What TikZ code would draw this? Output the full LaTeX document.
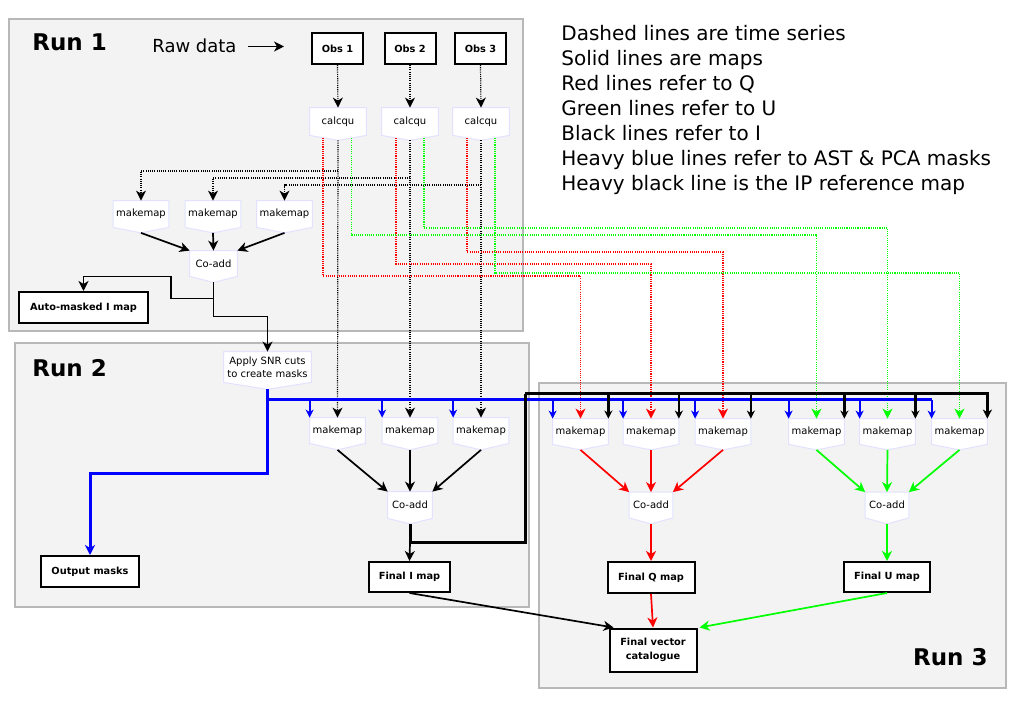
\documentclass[tikz,border=0pt]{standalone}
\usepackage{fontspec}
\setmainfont{DejaVu Sans}
\usetikzlibrary{arrows.meta,calc}
\pgfdeclarelayer{back}
\pgfdeclarelayer{mid}
\pgfsetlayers{back,mid,main}
\definecolor{runfill}{HTML}{F3F3F3}
\definecolor{runline}{HTML}{B8B8B8}
\definecolor{procline}{HTML}{E2E2FF}
\definecolor{gr}{HTML}{00FF00}
\newcommand{\mkproc}[2]{%
  \begin{pgfonlayer}{mid}
    \draw[procshape] (#1.north west) -- (#1.north east) -- (#1.south east) -- ($(#1.south)+(0,#2)$) -- (#1.south west) -- cycle;
  \end{pgfonlayer}
  \coordinate (#1t) at ($(#1.south)+(0,#2)$);}
\begin{document}
\begin{tikzpicture}[x=0.5pt,y=-0.5pt,
  >={Stealth[length=5pt,width=5pt,inset=1.5pt]},
  runbox/.style={draw=runline, line width=1pt, fill=runfill},
  runlbl/.style={font=\fontsize{11.5}{14}\selectfont\bfseries, inner sep=0pt},
  leg/.style={font=\fontsize{10}{12}\selectfont, inner sep=0pt, anchor=base west},
  box/.style={draw=black, line width=1pt, fill=white, inner sep=0pt, align=center, font=\fontsize{4.9}{7}\selectfont\bfseries},
  proc/.style={inner sep=0pt, align=center, font=\fontsize{5}{6.5}\selectfont},
  procshape/.style={draw=procline, line width=0.5pt, fill=white},
  ts/.style={line width=0.6pt, dash pattern=on 0.55pt off 0.55pt},
  tsk/.style={ts, black},
  tsr/.style={ts, red},
  tsg/.style={ts, gr},
  mapl/.style={line width=0.85pt, black},
  redl/.style={line width=0.85pt, red},
  greenl/.style={line width=0.85pt, gr},
  bluel/.style={line width=1.5pt, blue},
  bluestub/.style={line width=1.1pt, blue, -{Stealth[length=4pt,width=4pt,inset=1.2pt]}},
  heavy/.style={line width=1.5pt, black},
  heavystub/.style={line width=1.1pt, black, -{Stealth[length=4pt,width=4pt,inset=1.2pt]}},
  mm/.style={proc, minimum width=27.5pt, minimum height=12.5pt},
  cad/.style={proc, minimum width=22pt, minimum height=12.5pt}
]
\useasboundingbox (0,0) rectangle (1017,705);

% Run boxes
\begin{pgfonlayer}{back}
  \fill[white] (0,0) rectangle (1017,705);
  \draw[runbox] (9,19) rectangle (523,331);
  \draw[runbox] (15,343) rectangle (529,607);
  \draw[runbox] (539,383) rectangle (1006,688);
\end{pgfonlayer}
\node[runlbl, anchor=base west] (r1) at (32,51) {Run 1};
\node[runlbl, anchor=base west] (r2) at (32,377) {Run 2};
\node[runlbl, anchor=base east] (r3) at (988,665) {Run 3};

% Legend
\node[leg] (lg1) at (561,41) {Dashed lines are time series};
\node[leg] (lg2) at (561,66) {Solid lines are maps};
\node[leg] (lg3) at (561,91) {Red lines refer to Q};
\node[leg] (lg4) at (561,116) {Green lines refer to U};
\node[leg] (lg5) at (561,141) {Black lines refer to I};
\node[leg] (lg6) at (561,166) {Heavy blue lines refer to AST \& PCA masks};
\node[leg] (lg7) at (561,191) {Heavy black line is the IP reference map};

% Raw data
\node[leg, font=\fontsize{9}{11}\selectfont] (raw) at (152,53) {Raw data};
\coordinate (ra1) at (248,46.5);
\coordinate (ra2) at (284,46.5);
\draw[line width=0.7pt,->] (ra1) -- (ra2);

% Obs boxes
\node[box, minimum width=25.5pt, minimum height=15.5pt] (obs1) at (337.5,48.5) {Obs 1};
\node[box, minimum width=25.5pt, minimum height=15.5pt] (obs2) at (410,48.5) {Obs 2};
\node[box, minimum width=25.5pt, minimum height=15.5pt] (obs3) at (480.5,48.5) {Obs 3};

% calcqu
\node[proc, minimum width=28pt, minimum height=13.5pt] (cc1) at (338,121.5) {calcqu};
\node[proc, minimum width=28pt, minimum height=13.5pt] (cc2) at (410,121.5) {calcqu};
\node[proc, minimum width=28pt, minimum height=13.5pt] (cc3) at (481,121.5) {calcqu};
\mkproc{cc1}{5}\mkproc{cc2}{5}\mkproc{cc3}{5}

% Run 1 makemaps and co-add
\node[mm, minimum height=13pt] (ma1) at (141,214) {makemap};
\node[mm, minimum height=13pt] (ma2) at (213,214) {makemap};
\node[mm, minimum height=13pt] (ma3) at (284.5,214) {makemap};
\mkproc{ma1}{5.5}\mkproc{ma2}{5.5}\mkproc{ma3}{5.5}
\node[cad, minimum width=23.5pt] (cadd1) at (213.5,263.5) {Co-add};
\mkproc{cadd1}{6}
\node[box, minimum width=64.5pt, minimum height=15.5pt] (am) at (83.5,307.5) {Auto-masked I map};

% Run 2
\node[proc, minimum width=43.5pt, minimum height=15pt] (snr) at (267.5,367) {Apply SNR cuts\\to create masks};
\mkproc{snr}{7}
\node[mm] (mb1) at (337.5,430.5) {makemap};
\node[mm] (mb2) at (410,430.5) {makemap};
\node[mm] (mb3) at (481,430.5) {makemap};
\mkproc{mb1}{6.5}\mkproc{mb2}{6.5}\mkproc{mb3}{6.5}
\node[cad, minimum height=13pt] (cadd2) at (410,505) {Co-add};
\mkproc{cadd2}{5.5}
\node[box, minimum width=40.5pt, minimum height=15pt] (fi) at (409.5,577) {Final I map};
\node[box, minimum width=49pt, minimum height=15.5pt] (om) at (90,571.5) {Output masks};

% Run 3
\node[mm] (mq1) at (580.5,431.5) {makemap};
\node[mm] (mq2) at (651,431.5) {makemap};
\node[mm] (mq3) at (723,431.5) {makemap};
\node[mm] (mu1) at (816.5,431.5) {makemap};
\node[mm] (mu2) at (887.5,431.5) {makemap};
\node[mm] (mu3) at (959.5,431.5) {makemap};
\mkproc{mq1}{5.5}\mkproc{mq2}{5.5}\mkproc{mq3}{5.5}
\mkproc{mu1}{5.5}\mkproc{mu2}{5.5}\mkproc{mu3}{5.5}
\node[cad, minimum width=21.5pt] (caddq) at (651,505) {Co-add};
\node[cad, minimum width=21.5pt] (caddu) at (887,505) {Co-add};
\mkproc{caddq}{6}\mkproc{caddu}{6}
\node[box, minimum width=43.5pt, minimum height=15.5pt] (fq) at (651,577.5) {Final Q map};
\node[box, minimum width=43pt, minimum height=15pt] (fu) at (887,577) {Final U map};
\node[box, minimum width=43.5pt, minimum height=21.5pt] (fv) at (653,650) {Final vector\\catalogue};

% Obs -> calcqu
\draw[tsk,->] (obs1.south) -- (cc1.north);
\draw[tsk,->] (obs2.south) -- (cc2.north);
\draw[tsk,->] (obs3.south) -- (cc3.north);

% calcqu I time series
\coordinate (hb1) at (0,171);
\coordinate (hb2) at (0,178);
\coordinate (hb3) at (0,185);
\draw[tsk,->] (cc1t) -- (mb1.north);
\draw[tsk,->] (cc2t) -- (mb2.north);
\draw[tsk,->] (cc3t) -- (mb3.north);
\draw[tsk,->] (cc1t |- hb1) -| (ma1.north);
\draw[tsk,->] (cc2t |- hb2) -| (ma2.north);
\draw[tsk,->] (cc3t |- hb3) -| (ma3.north);

% Q and U time series
\coordinate (cc1r) at ($(cc1.south)+(-15,2.3)$);
\coordinate (cc2r) at ($(cc2.south)+(-14,2.5)$);
\coordinate (cc3r) at ($(cc3.south)+(-14,2.5)$);
\coordinate (cc1g) at ($(cc1.south)+(13.5,2.6)$);
\coordinate (cc2g) at ($(cc2.south)+(14,2.5)$);
\coordinate (cc3g) at ($(cc3.south)+(14,2.5)$);
\coordinate (lr1) at (0,276);
\coordinate (lr2) at (0,264);
\coordinate (lr3) at (0,252);
\coordinate (lu1) at (0,235);
\coordinate (lu2) at (0,228);
\coordinate (lu3) at (0,273);
\draw[tsr,->] (cc1r) -- (cc1r |- lr1) -| (mq1.north);
\draw[tsr,->] (cc2r) -- (cc2r |- lr2) -| (mq2.north);
\draw[tsr,->] (cc3r) -- (cc3r |- lr3) -| (mq3.north);
\draw[tsg,->] (cc1g) -- (cc1g |- lu1) -| (mu1.north);
\draw[tsg,->] (cc2g) -- (cc2g |- lu2) -| (mu2.north);
\draw[tsg,->] (cc3g) -- (cc3g |- lu3) -| (mu3.north);

% Run 1 maps
\draw[mapl,->] (ma1t) -- (cadd1.north west);
\draw[mapl,->] (ma2t) -- (cadd1.north);
\draw[mapl,->] (ma3t) -- (cadd1.north east);
\coordinate (j1) at ($(cadd1t)+(0,16)$);
\draw[mapl,->] (cadd1t) -- (j1) -- ++(-42.5,0) -- ++(0,-22) -| (am.north);
\draw[mapl,->] (j1) -- ++(0,18) -| (snr.north);

% Blue masks
\coordinate (bl) at (0,400);
\draw[bluel,->] (snrt) -- ++(0,84) -| (om.north);
\draw[bluel] (snrt |- bl) -- (mu3.north west |- bl);
\foreach \m in {mb1,mb2,mb3,mq1,mq2,mq3,mu1,mu2,mu3}
  \draw[bluestub] (\m.north west |- bl) -- (\m.north west);

% Run 2 maps
\draw[mapl,->] (mb1t) -- (cadd2.north west);
\draw[mapl,->] (mb2t) -- (cadd2.north);
\draw[mapl,->] (mb3t) -- (cadd2.north east);
\coordinate (j2) at ($(cadd2t)+(0,19)$);
\coordinate (hkc) at (525,394);
\draw[heavy] (cadd2t) -- (j2) -| (hkc);
\draw[heavy,-{Stealth[length=4.5pt,width=4.5pt,inset=1.3pt]}] (hkc) -| (mu3.north east);
\foreach \m in {mq1,mq2,mq3,mu1,mu2}
  \draw[heavystub] (\m.north east |- hkc) -- (\m.north east);
\draw[mapl,->] (j2) -- (fi.north);

% Run 3 maps
\draw[redl,->] (mq1t) -- (caddq.north west);
\draw[redl,->] (mq2t) -- (caddq.north);
\draw[redl,->] (mq3t) -- (caddq.north east);
\draw[greenl,->] (mu1t) -- (caddu.north west);
\draw[greenl,->] (mu2t) -- (caddu.north);
\draw[greenl,->] (mu3t) -- (caddu.north east);
\draw[redl,->] (caddqt) -- (fq.north);
\draw[greenl,->] (caddut) -- (fu.north);

% Final catalogue
\draw[mapl,->] (fi.south) -- ($(fv.north west)+(5,0)$);
\draw[redl,->] (fq.south) -- (fv.north);
\draw[greenl,->] (fu.south) -- ($(fv.north east)+(2,0)$);
\end{tikzpicture}
\end{document}
